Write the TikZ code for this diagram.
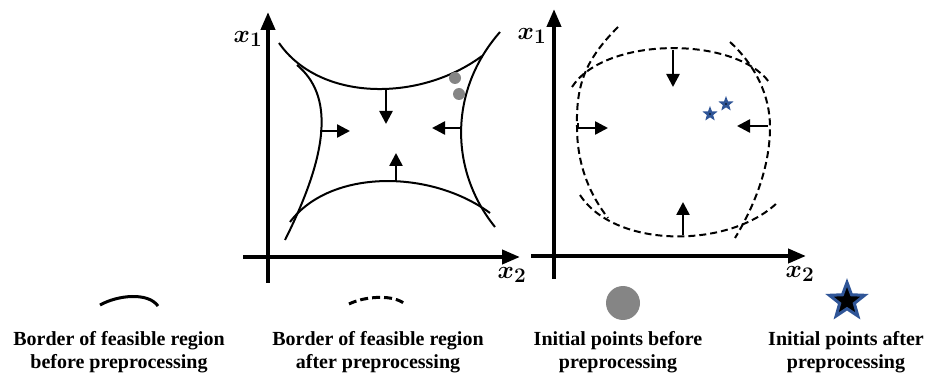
\documentclass[tikz,border=0pt]{standalone}
\usepackage{fontspec}
\setmainfont{Liberation Serif}
\usetikzlibrary{arrows.meta,shapes.geometric}
\definecolor{starblue}{HTML}{2F5597}
\definecolor{ptgray}{HTML}{858585}
\tikzset{
  axis/.style={line width=4pt,-{Triangle[length=18pt,width=14pt]}},
  border/.style={line width=2pt},
  borderd/.style={line width=2pt,dash pattern=on 7pt off 4pt},
  push/.style={line width=2.5pt,-{Triangle[length=13pt,width=13pt]}},
  axlabel/.style={inner sep=0pt,font=\fontsize{31}{36}\selectfont\boldmath},
  legtext/.style={align=center,anchor=base,inner sep=0pt,font=\fontsize{20}{23}\selectfont\bfseries},
  smallstar/.style={star,star points=5,star point ratio=2.4,minimum size=16pt,inner sep=0pt,fill=starblue},
}
\begin{document}
\begin{tikzpicture}[x=1pt,y=-1pt]
\useasboundingbox (0,0) rectangle (927,374);
% ---------- left panel ----------
\coordinate (Lo1) at (268,283); \coordinate (Ly) at (268,12);
\coordinate (Lo2) at (243,257); \coordinate (Lx) at (520,257);
\draw[axis] (Lo1) -- (Ly);
\draw[axis] (Lo2) -- (Lx);
\node[axlabel] (Lx1) at (248,39) {$x_1$};
\node[axlabel] (Lx2) at (512,275) {$x_2$};
\draw[border] (279,43) .. controls (320,102) and (420,102) .. (482,56);
\draw[border] (290,222) .. controls (330,169) and (430,169) .. (490,213);
\draw[border] (297,65) .. controls (333,95) and (330,150) .. (285,240);
\draw[border] (500,32) .. controls (449,90) and (449,170) .. (495,227);
\coordinate (La1) at (386,89);  \coordinate (La2) at (386,124);
\coordinate (Lb1) at (320,131); \coordinate (Lb2) at (350,131);
\coordinate (Lc1) at (461,128); \coordinate (Lc2) at (432,128);
\coordinate (Ld1) at (396,182); \coordinate (Ld2) at (396,153);
\draw[push] (La1) -- (La2);
\draw[push] (Lb1) -- (Lb2);
\draw[push] (Lc1) -- (Lc2);
\draw[push] (Ld1) -- (Ld2);
\fill[ptgray] (455,78) circle (6);
\fill[ptgray] (459,94) circle (6);
% ---------- right panel ----------
\coordinate (Ro1) at (554,279); \coordinate (Ry) at (554,9);
\coordinate (Ro2) at (531,256); \coordinate (Rx) at (806,256);
\draw[axis] (Ro1) -- (Ry);
\draw[axis] (Ro2) -- (Rx);
\node[axlabel] (Rx1) at (532,36) {$x_1$};
\node[axlabel] (Rx2) at (800,274) {$x_2$};
\draw[borderd] (572,87) .. controls (605,36) and (735,36) .. (769,82);
\draw[borderd] (618,27) .. controls (585,60) and (576,85) .. (577,127) .. controls (577,165) and (590,195) .. (608,218);
\draw[borderd] (730,42) .. controls (755,65) and (770,95) .. (770,127) .. controls (770,170) and (752,210) .. (735,238);
\draw[borderd] (580,195) .. controls (615,249) and (730,249) .. (778,202);
\coordinate (Ra1) at (673,50);  \coordinate (Ra2) at (673,87);
\coordinate (Rb1) at (578,128); \coordinate (Rb2) at (608,128);
\coordinate (Rc1) at (768,126); \coordinate (Rc2) at (737,126);
\coordinate (Rd1) at (683,235); \coordinate (Rd2) at (683,202);
\draw[push] (Ra1) -- (Ra2);
\draw[line width=2pt] (578,123) -- (Rb1);
\draw[push] (Rb1) -- (Rb2);
\draw[push] (Rc1) -- (Rc2);
\draw[push] (Rd1) -- (Rd2);
\node[smallstar] (s1) at (710,114) {};
\node[smallstar] (s2) at (726,104) {};
\fill[black] (s1.center) circle (0.8);
\fill[black] (s2.center) circle (0.8);
% ---------- legend ----------
\draw[line width=3pt] (100,305) .. controls (118,295) and (148,292) .. (158,306);
\draw[line width=3pt,dash pattern=on 8pt off 4pt] (349,304) .. controls (365,296) and (395,294) .. (406,305);
\fill[ptgray] (623,303) circle (17);
\node[star,star points=5,star point ratio=2.4,minimum size=37pt,inner sep=0pt,fill=black,draw=starblue,line width=3pt] (legstar) at (847,301) {};
\node[legtext] (t1) at (119,368) {Border of feasible region\\before preprocessing};
\node[legtext] (t2) at (378,368) {Border of feasible region\\after preprocessing};
\node[legtext] (t3) at (618,368) {Initial points before\\preprocessing};
\node[legtext] (t4) at (846,368) {Initial points after\\preprocessing};
\end{tikzpicture}
\end{document}
